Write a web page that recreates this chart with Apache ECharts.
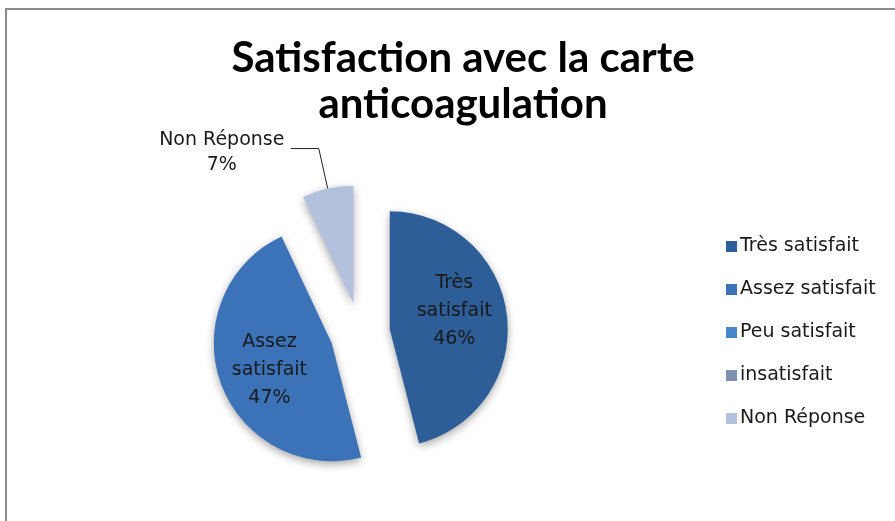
<!DOCTYPE html>
<html>
<head>
<meta charset="utf-8">
<script src="https://cdn.jsdelivr.net/npm/echarts@6/dist/echarts.min.js"></script>
<style>
  html, body { margin: 0; padding: 0; background: #fff; }
  #pieChart { width: 895px; height: 521px; }
</style>
</head>
<body>
<div id="pieChart"></div>
<script>
// data
let categories = ["Très satisfait", "Assez satisfait", "Peu satisfait", "insatisfait", "Non Réponse"];
let values = [46, 47, 0, 0, 7];
let colors = ["#2d5e97", "#3b72b8", "#4a86cc", "#7f90b0", "#b3c1dd"];

let myChart = echarts.init(document.getElementById("pieChart"));

let pieData = categories.map((name, i) => {
  let item = {
    name: name,
    value: values[i],
    selected: true,
    itemStyle: { color: colors[i] },
  };
  if (values[i] === 0) {
    item.label = { show: false };
    item.labelLine = { show: false };
  }
  return item;
});
// Non Réponse is labelled outside the pie
pieData[4].label = {
  position: "outside",
  formatter: "{t|{b}}\n{t|{c}%}",
  distanceToLabelLine: 4,
  padding: [8, 0, 0, 0],
  rich: {
    t: {
      width: 130,
      align: "center",
      fontFamily: "DejaVu Sans",
      fontSize: 19,
      lineHeight: 25,
      color: "#1a1a1a",
    },
  },
};
pieData[4].labelLine = {
  show: true,
  length: 41,
  length2: 28,
  lineStyle: { color: "#222", width: 1 },
};

// small nudges of the inside labels
let labelShift = { 0: { dx: 3, dy: -10 }, 1: { dx: -4, dy: 6 } };

let option = {
  title: {
    text: "Satisfaction avec la carte\nanticoagulation",
    left: 458,
    top: 30,
    textAlign: "center",
    textStyle: {
      fontFamily: "Lato",
      fontWeight: "bold",
      fontSize: 42,
      lineHeight: 46,
      color: "#000",
    },
  },
  graphic: [
    {
      type: "polyline",
      shape: { points: [[6, 521], [6, 9], [895, 9]] },
      style: { stroke: "#8c8c8c", lineWidth: 2, fill: null },
    },
  ],
  legend: {
    orient: "vertical",
    left: 721,
    top: 232,
    itemWidth: 11,
    itemHeight: 11,
    itemGap: 24,
    icon: "rect",
    selectedMode: false,
    data: categories,
    textStyle: {
      fontFamily: "DejaVu Sans",
      fontSize: 19,
      color: "#1a1a1a",
      padding: [0, 0, 0, -2],
    },
  },
  series: [
    {
      type: "pie",
      center: [360, 333],
      radius: 118,
      startAngle: 90,
      clockwise: true,
      selectedMode: "multiple",
      selectedOffset: 30,
      avoidLabelOverlap: false,
      minShowLabelAngle: 1,
      itemStyle: {
        shadowBlur: 8,
        shadowColor: "rgba(0,0,0,0.35)",
        shadowOffsetY: 3,
      },
      emphasis: { disabled: true },
      label: {
        show: true,
        position: "inside",
        formatter: (p) => p.name.replace(" ", "\n") + "\n" + p.value + "%",
        fontFamily: "DejaVu Sans",
        fontSize: 19,
        lineHeight: 28,
        color: "#1a1a1a",
        align: "center",
      },
      labelLayout: (p) => labelShift[p.dataIndex],
      data: pieData,
    },
  ],
};
myChart.setOption(option);
</script>
</body>
</html>
